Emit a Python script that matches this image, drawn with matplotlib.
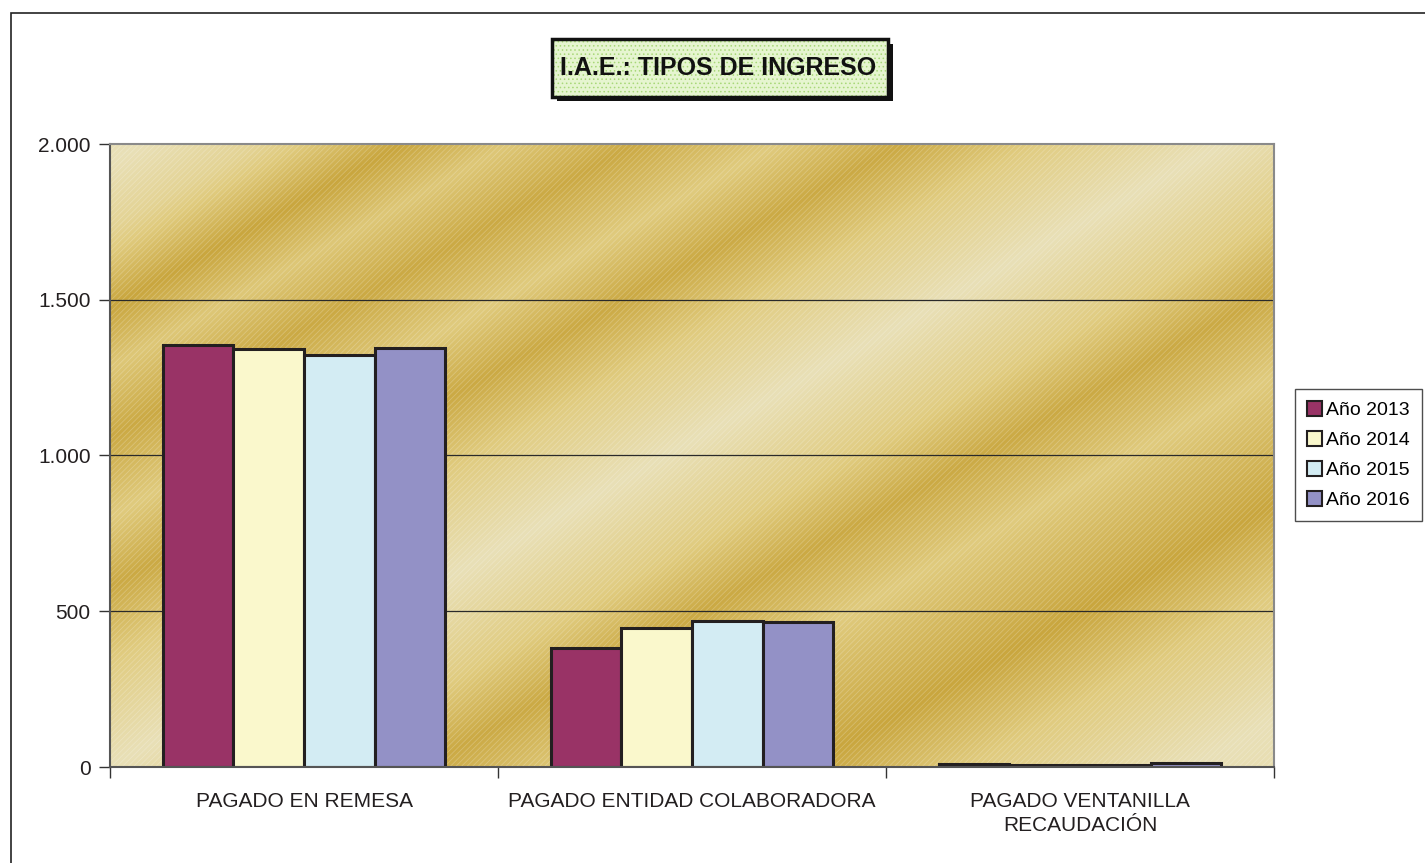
import numpy as np
import matplotlib.pyplot as plt
from matplotlib.patches import Rectangle
from matplotlib.colors import LinearSegmentedColormap

# datos
categorias = ["PAGADO EN REMESA", "PAGADO ENTIDAD COLABORADORA", "PAGADO VENTANILLA\nRECAUDACIÓN"]
anios = ["Año 2013", "Año 2014", "Año 2015", "Año 2016"]
v2013 = [1355, 382, 9]
v2014 = [1342, 446, 8]
v2015 = [1323, 469, 6]
v2016 = [1345, 465, 13]
yticks = [0, 500, 1000, 1500, 2000]
ytick_labels = ["0", "500", "1.000", "1.500", "2.000"]

colores = ["#993366", "#FAF8CC", "#D3ECF3", "#9391C6"]

plt.rcParams['font.family'] = ['Liberation Sans', 'DejaVu Sans']
plt.rcParams['hatch.linewidth'] = 0.6

fig = plt.figure(figsize=(14.25, 8.63), dpi=100)
W, H = 1425, 863

# marco exterior
fig.patches.append(Rectangle((11 / W, -0.01), 1.0, 1 - 13 / H + 0.01, transform=fig.transFigure,
                             fill=False, edgecolor="#222222", linewidth=1.2))

ax = fig.add_axes([110 / W, 96 / H, 1164 / W, 623 / H])

# fondo degradado dorado con franjas diagonales
nx, ny = 700, 380
px, py = np.meshgrid(np.linspace(110, 1274, nx), np.linspace(767, 143, ny))
c = py + 0.56 * (px - 110) - 767
c_stops = [-700, -606, -540, -460, -400, -330, -250, -180, -100, 0, 100, 176, 260, 390, 480, 606, 700]
t_stops = [0.9, 1.0, 0.7, 0.0, 0.45, 0.05, 0.5, 0.05, 0.55, 1.0, 0.55, 0.05, 0.5, 0.0, 0.5, 1.0, 0.9]
tono = np.interp(c, c_stops, t_stops)
cmap = LinearSegmentedColormap.from_list("oro", ["#C9A63E", "#E0CB7E", "#E9E0B7"])
ax.imshow(tono, extent=(0, 3, 0, 2000), origin="lower", aspect="auto", cmap=cmap,
          interpolation="bilinear", zorder=0)
ax.add_patch(Rectangle((0, 0), 3, 2000, fill=False, hatch="//////", edgecolor=(1, 1, 1, 0.22),
                       linewidth=0, zorder=0.5))

# lineas de division
for yv in yticks[1:-1]:
    ax.axhline(yv, color="#2a2a2a", linewidth=0.9, zorder=1)

series = [v2013, v2014, v2015, v2016]
ancho = 0.182
centros = np.arange(len(categorias)) + 0.5
for i, (vals, col, lab) in enumerate(zip(series, colores, anios)):
    ax.bar(centros + (i - 1.5) * ancho, vals, width=ancho, color=col, edgecolor="#231F20",
           linewidth=2.2, label=lab, zorder=2)

ax.set_xlim(0, 3)
ax.set_ylim(0, 2000)
ax.set_yticks(yticks)
ax.set_yticklabels(ytick_labels, fontsize=15, color="#231F20")
ax.set_xticks([0, 1, 2, 3])
ax.set_xticklabels([])
ax.set_xticks(centros, minor=True)
ax.set_xticklabels(categorias, minor=True, fontsize=15, color="#231F20", linespacing=1.35)
ax.tick_params(axis="x", which="minor", length=0, pad=18)
ax.tick_params(axis="x", which="major", length=8, width=1, color="#333333", direction="out")
ax.tick_params(axis="y", length=8, width=1, color="#333333", direction="out", pad=6)

for side in ["top", "right"]:
    ax.spines[side].set_color("#8a8a8a")
    ax.spines[side].set_linewidth(1.5)
for side in ["left", "bottom"]:
    ax.spines[side].set_color("#555555")
    ax.spines[side].set_linewidth(1.5)

# titulo con sombra y fondo punteado
fig.patches.append(Rectangle((557 / W, 1 - 101 / H), 336 / W, 57 / H, transform=fig.transFigure,
                             facecolor="#111111", edgecolor="none", zorder=3))
fig.patches.append(Rectangle((552 / W, 1 - 97 / H), 336 / W, 58 / H, transform=fig.transFigure,
                             facecolor="#E6F5D0", edgecolor="none", zorder=4))
fig.patches.append(Rectangle((552 / W, 1 - 97 / H), 336 / W, 58 / H, transform=fig.transFigure,
                             fill=False, hatch="....", edgecolor="#A8D878", linewidth=0, zorder=4.2))
fig.patches.append(Rectangle((552 / W, 1 - 97 / H), 336 / W, 58 / H, transform=fig.transFigure,
                             fill=False, edgecolor="#111111", linewidth=2.5, zorder=4.5))
fig.text(718 / W, 1 - 68 / H, "I.A.E.: TIPOS DE INGRESO", ha="center", va="center",
         fontsize=18, fontweight="bold", color="#111111", zorder=5)

leg = ax.legend(loc="center left", bbox_to_anchor=(1295 / W, 1 - 455 / H),
                bbox_transform=fig.transFigure, fontsize=14, frameon=True, fancybox=False,
                handlelength=0.8, handleheight=0.8, handletextpad=0.2, labelspacing=0.6,
                borderpad=0.6, borderaxespad=0)
leg.get_frame().set_edgecolor("#222222")
leg.get_frame().set_linewidth(1.0)
for h in leg.legend_handles:
    h.set_linewidth(1.5)

fig.savefig("out.png", dpi=100)
